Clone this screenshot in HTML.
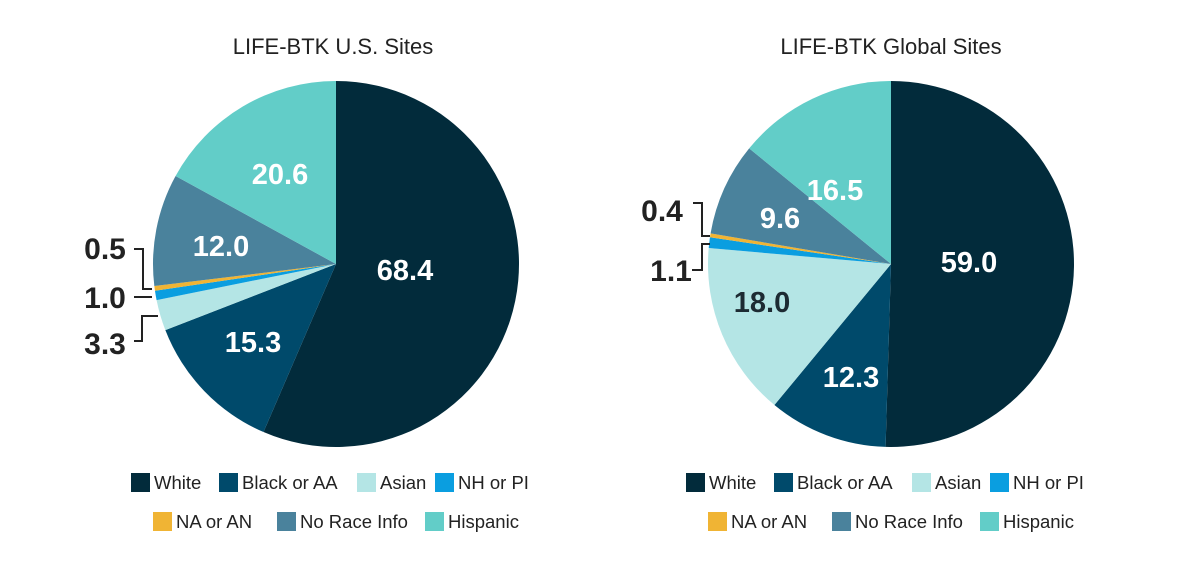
<!DOCTYPE html>
<html><head><meta charset="utf-8"><style>
body{margin:0;background:#fff;}
svg text{font-family:"Liberation Sans",sans-serif;}
</style></head><body>
<svg id="s" width="1197" height="565" xmlns="http://www.w3.org/2000/svg">
<text x="333" y="54" font-size="22" text-anchor="middle" fill="#222">LIFE-BTK U.S. Sites</text>
<text x="891" y="54" font-size="22" text-anchor="middle" fill="#222">LIFE-BTK Global Sites</text>
<g id="p"></g>
<g font-weight="bold" font-size="29" fill="#fff" text-anchor="middle">
<text x="405" y="280">68.4</text><text x="253" y="352">15.3</text><text x="221" y="256">12.0</text><text x="280" y="184">20.6</text>
<text x="969" y="272">59.0</text><text x="851" y="387">12.3</text><text x="762" y="312" fill="#1d2b33">18.0</text><text x="780" y="228">9.6</text><text x="835" y="200">16.5</text>
</g>
<g font-weight="bold" font-size="30" fill="#222" text-anchor="middle">
<text x="105" y="259">0.5</text><text x="105" y="308">1.0</text><text x="105" y="354">3.3</text>
<text x="662" y="221">0.4</text><text x="671" y="281">1.1</text>
</g>
<g stroke="#222" stroke-width="2" fill="none">
<polyline points="134,249 143,249 143,289 152,289"/>
<polyline points="134,297 152,297"/>
<polyline points="134,341 142,341 142,316 158,316"/>
<polyline points="693,203 702,203 702,236 710,236"/>
<polyline points="692,270 702,270 702,244 710,244"/>
</g>
<g id="l" font-size="18.5" fill="#222"></g>
</svg>
<script>
var C=["#022b3b","#004a6b","#b4e5e5","#0a9ee0","#f0b434","#4a829c","#62cdc8"];
function pie(cx,cy,r,v){var t=v.reduce((a,b)=>a+b,0),a=0,h="";
v.forEach(function(x,i){var b=a+x/t*2*Math.PI;
var x1=cx+r*Math.sin(a),y1=cy-r*Math.cos(a),x2=cx+r*Math.sin(b),y2=cy-r*Math.cos(b);
h+='<path d="M'+cx+','+cy+' L'+x1+','+y1+' A'+r+','+r+' 0 '+((b-a)>Math.PI?1:0)+' 1 '+x2+','+y2+' Z" fill="'+C[i]+'"/>';a=b;});return h;}
document.getElementById("p").innerHTML=pie(336,264,183,[68.4,15.3,3.3,1.0,0.5,12.0,20.6])+pie(891,264,183,[59,12.3,18,1.1,0.4,9.6,16.5]);
var L=[[131,483,0,"White"],[219,483,1,"Black or AA"],[357,483,2,"Asian"],[435,483,3,"NH or PI"],[153,522,4,"NA or AN"],[277,522,5,"No Race Info"],[425,522,6,"Hispanic"]],h="";
[0,555].forEach(function(o){L.forEach(function(e){h+='<rect x="'+(e[0]+o)+'" y="'+(e[1]-10)+'" width="19" height="19" fill="'+C[e[2]]+'"/><text x="'+(e[0]+o+23)+'" y="'+(e[1]+6)+'">'+e[3]+'</text>';});});
document.getElementById("l").innerHTML=h;
</script>
</body></html>
